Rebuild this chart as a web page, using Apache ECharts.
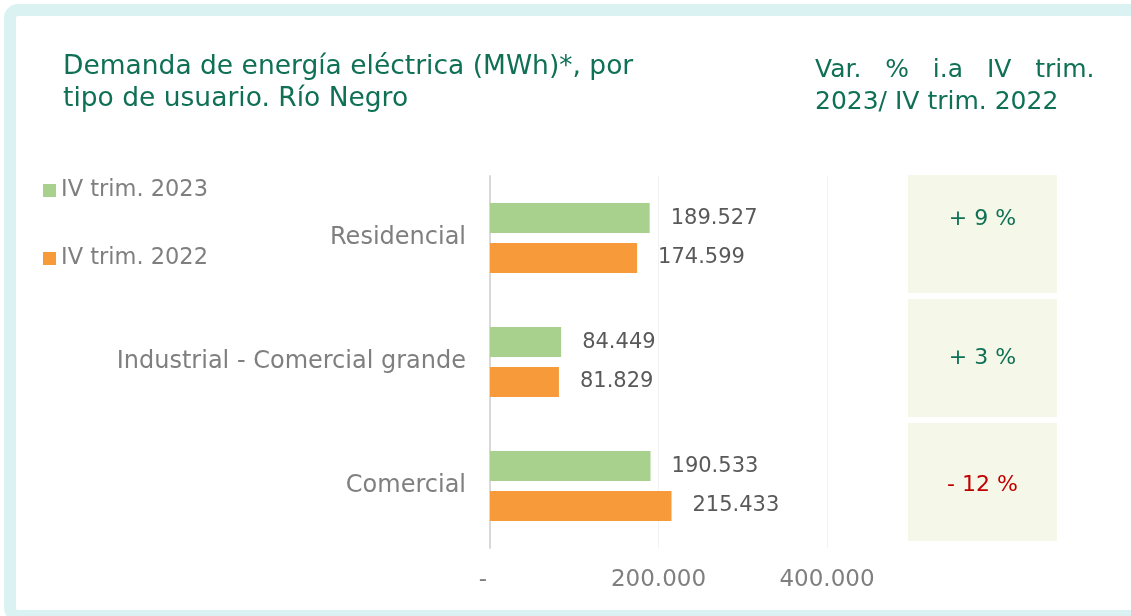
<!DOCTYPE html>
<html>
<head>
<meta charset="utf-8">
<script src="https://cdn.jsdelivr.net/npm/echarts@6/dist/echarts.min.js"></script>
<style>
  html, body { margin: 0; padding: 0; background: #fff; }
  #chart { width: 1131px; height: 616px; }
</style>
</head>
<body>
<div id="chart"></div>
<script>
// data
var categories = ['Residencial', 'Industrial - Comercial grande', 'Comercial']
var serie2023 = [189527, 84449, 190533]
var serie2022 = [174599, 81829, 215433]
var varPct = [9, 3, -12]

var FONT = 'DejaVu Sans'

function miles (v) {
  if (v === 0) return '-'
  return String(Math.round(v)).replace(/\B(?=(\d{3})+(?!\d))/g, '.')
}

var chart = echarts.init(document.getElementById('chart'))

chart.setOption({
  backgroundColor: '#fff',
  textStyle: { fontFamily: FONT },
  graphic: [{
    type: 'rect',
    shape: { x: 10, y: 10, width: 1130, height: 606, r: 8 },
    style: { fill: null, stroke: '#DAF3F2', lineWidth: 12 },
    z: -10
  }, {
    type: 'text',
    left: 815,
    top: 54,
    style: {
      text: 'Var.   %   i.a   IV   trim.\n2023/ IV trim. 2022',
      fill: '#0F7055',
      font: '25px "' + FONT + '"',
      lineHeight: 32
    }
  }],
  title: {
    text: 'Demanda de energía eléctrica (MWh)*, por\ntipo de usuario. Río Negro',
    left: 58,
    top: 46,
    textStyle: {
      color: '#0F7055',
      fontSize: 26.5,
      fontWeight: 'normal',
      lineHeight: 32,
      fontFamily: FONT
    }
  },
  legend: {
    data: ['IV trim. 2023', 'IV trim. 2022'],
    orient: 'vertical',
    left: 38,
    top: 174,
    icon: 'rect',
    itemWidth: 13,
    itemHeight: 13,
    itemGap: 45,
    textStyle: { color: '#7F7F7F', fontSize: 22.5, fontFamily: FONT }
  },
  grid: [{
    left: 490,
    top: 176,
    width: 337,
    height: 372
  }, {
    left: 908,
    top: 172,
    width: 149,
    height: 372
  }],
  xAxis: [{
    type: 'value',
    gridIndex: 0,
    min: 0,
    max: 400000,
    interval: 200000,
    axisLine: { show: false },
    axisTick: { show: false },
    splitLine: { show: true, lineStyle: { color: '#F2F2F2' } },
    axisLabel: {
      margin: 21,
      color: '#7F7F7F',
      fontSize: 23,
      fontFamily: FONT,
      formatter: function (v) {
        return v === 0 ? '{z|-}' : miles(v)
      },
      rich: { z: { fontSize: 23, color: '#7F7F7F', padding: [0, 14, 0, 0] } }
    }
  }, {
    type: 'value',
    gridIndex: 1,
    min: 0,
    max: 1,
    show: false
  }],
  yAxis: [{
    type: 'category',
    gridIndex: 0,
    inverse: true,
    data: categories,
    axisLine: { show: true, lineStyle: { color: '#D9D9D9', width: 2 } },
    axisTick: { show: false },
    axisLabel: {
      margin: 24,
      color: '#7F7F7F',
      fontSize: 24,
      fontFamily: FONT
    }
  }, {
    type: 'category',
    gridIndex: 1,
    inverse: true,
    data: categories,
    show: false
  }],
  series: [{
    name: 'IV trim. 2023',
    type: 'bar',
    xAxisIndex: 0,
    yAxisIndex: 0,
    data: serie2023,
    barWidth: 30,
    barGap: '33%',
    itemStyle: { color: '#A9D18E' },
    label: {
      show: true,
      position: 'right',
      distance: 21,
      color: '#595959',
      fontSize: 21,
      fontFamily: FONT,
      formatter: function (p) { return miles(p.value) }
    }
  }, {
    name: 'IV trim. 2022',
    type: 'bar',
    xAxisIndex: 0,
    yAxisIndex: 0,
    data: serie2022,
    barWidth: 30,
    barGap: '33%',
    itemStyle: { color: '#F79A3A' },
    label: {
      show: true,
      position: 'right',
      distance: 21,
      color: '#595959',
      fontSize: 21,
      fontFamily: FONT,
      formatter: function (p) { return miles(p.value) }
    }
  }, {
    name: 'var',
    type: 'bar',
    xAxisIndex: 1,
    yAxisIndex: 1,
    barWidth: 118,
    silent: true,
    itemStyle: { color: '#F5F8E8' },
    data: varPct.map(function (v, i) {
      return {
        value: 1,
        label: {
          offset: [0, [-15, 0, 3][i]],
          color: v < 0 ? '#C00000' : '#0F7055'
        }
      }
    }),
    label: {
      show: true,
      position: 'inside',
      fontSize: 22,
      fontFamily: FONT,
      formatter: function (p) {
        var v = varPct[p.dataIndex]
        return (v < 0 ? '- ' : '+ ') + Math.abs(v) + ' %'
      }
    }
  }]
})
</script>
</body>
</html>
